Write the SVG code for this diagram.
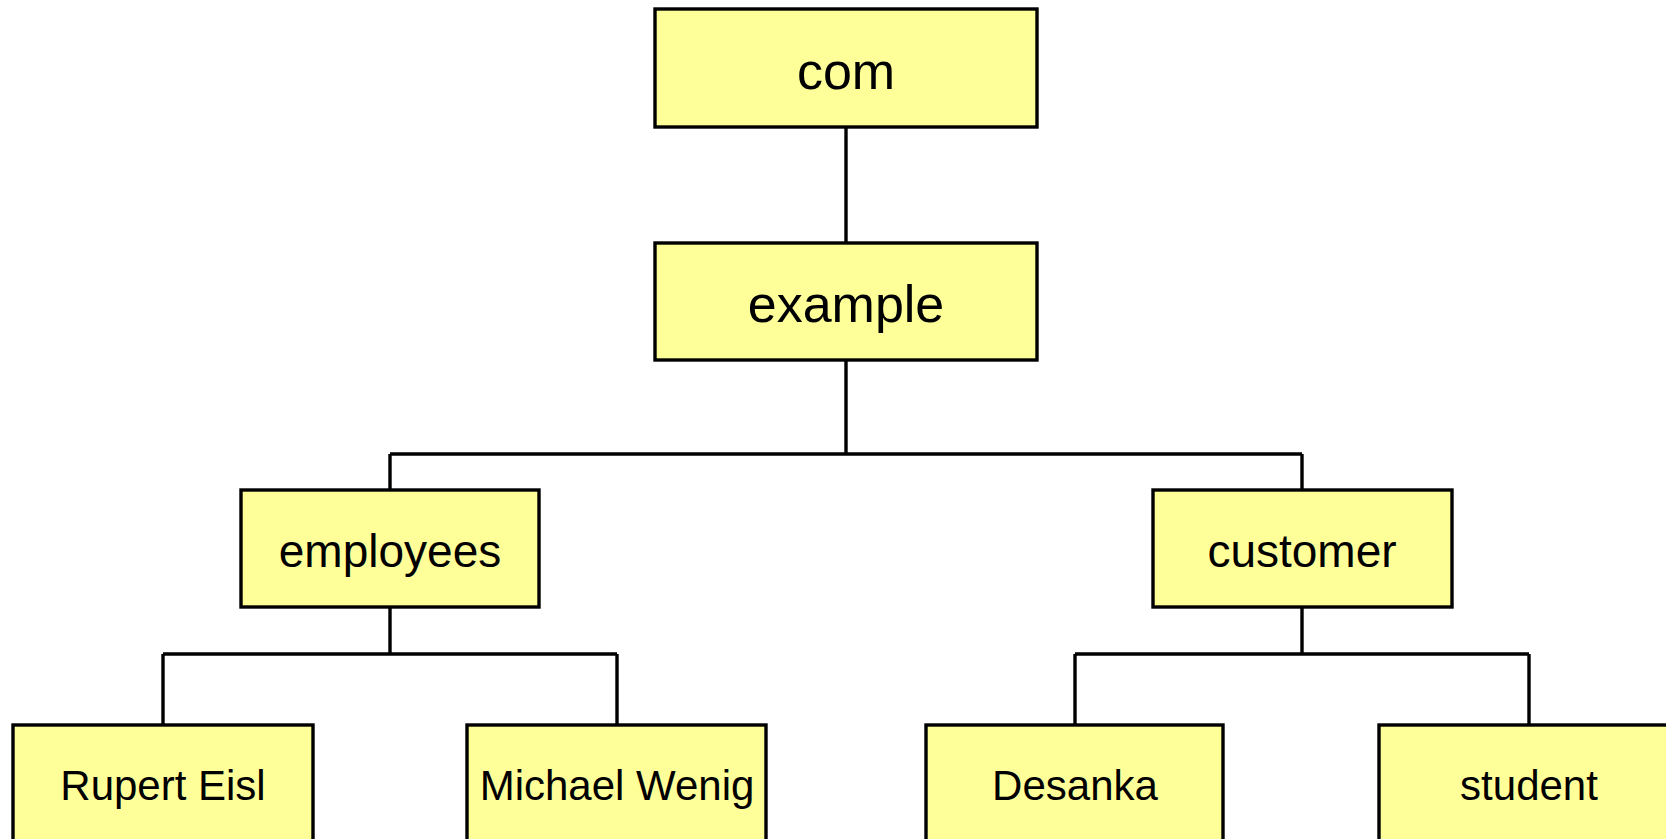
<svg xmlns="http://www.w3.org/2000/svg" width="1666" height="839" viewBox="0 0 1666 839">
  <style>
    .box { fill: #FFFF99; stroke: #000; stroke-width: 3.4; }
    .lbl { font-family: "Liberation Sans", Arial, sans-serif; fill: #000; text-anchor: middle; }
    .l1 { font-size: 52px; }
    .l2 { font-size: 46px; }
    .l3 { font-size: 42px; }
    .wire { fill: none; stroke: #000; stroke-width: 3.4; }
  </style>
  <rect width="1666" height="839" fill="#fff"/>

  <!-- tree connectors -->
  <g id="connectors">
    <path class="wire" d="M846,127 V243"/>
    <path class="wire" d="M846,360 V454 M390,454 H1302 M390,454 V490 M1302,454 V490"/>
    <path class="wire" d="M390,607 V654 M163,654 H617 M163,654 V725 M617,654 V725"/>
    <path class="wire" d="M1302,607 V654 M1075,654 H1529 M1075,654 V725 M1529,654 V725"/>
  </g>

  <g id="node-com">
    <rect class="box" x="655" y="9" width="382" height="118"/>
    <text class="lbl l1" x="846" y="89">com</text>
  </g>
  <g id="node-example">
    <rect class="box" x="655" y="243" width="382" height="117"/>
    <text class="lbl l1" x="846" y="322">example</text>
  </g>
  <g id="node-employees">
    <rect class="box" x="241" y="490" width="298" height="117"/>
    <text class="lbl l2" x="390" y="567">employees</text>
  </g>
  <g id="node-customer">
    <rect class="box" x="1153" y="490" width="299" height="117"/>
    <text class="lbl l2" x="1302" y="567">customer</text>
  </g>
  <g id="node-rupert">
    <rect class="box" x="13" y="725" width="300" height="140"/>
    <text class="lbl l3" x="163" y="800">Rupert Eisl</text>
  </g>
  <g id="node-michael">
    <rect class="box" x="467" y="725" width="299" height="140"/>
    <text class="lbl l3" x="617" y="800">Michael Wenig</text>
  </g>
  <g id="node-desanka">
    <rect class="box" x="926" y="725" width="297" height="140"/>
    <text class="lbl l3" x="1075" y="800">Desanka</text>
  </g>
  <g id="node-student">
    <rect class="box" x="1379" y="725" width="300" height="140"/>
    <text class="lbl l3" x="1529" y="800">student</text>
  </g>
</svg>
